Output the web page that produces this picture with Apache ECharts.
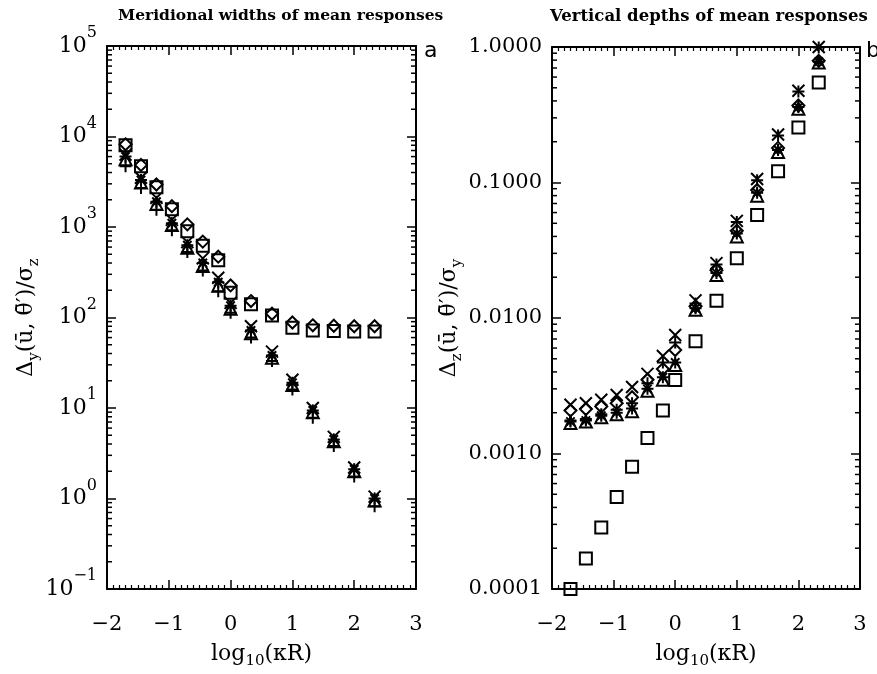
<!DOCTYPE html>
<html>
<head>
<meta charset="utf-8">
<script src="https://cdn.jsdelivr.net/npm/echarts@6/dist/echarts.min.js"></script>
<style>
html,body{margin:0;padding:0;background:#fff;}
#c{width:877px;height:674px;}
</style>
</head>
<body>
<div id="c"></div>
<script>
// ---- data ----
var xVals = [-1.7, -1.45, -1.2, -0.95, -0.7, -0.45, -0.2, 0, 0.33, 0.67, 1, 1.33, 1.67, 2, 2.33];

// panel a: meridional widths
var sqA   = [8000, 4700, 2750, 1570, 900, 620, 430, 188, 140, 105, 77, 72, 71, 70, 70];
var diaA  = [8200, 4850, 2950, 1700, 1070, 690, 470, 226, 152, 110, 88, 82, 81, 80, 80];
var triA  = [5600, 3100, 1800, 1050, 590, 370, 225, 125, 67, 36, 18, 9.0, 4.3, 2.0, 0.95];
var astA  = [6000, 3300, 1900, 1100, 630, 400, 245, 135, 72, 38, 19, 9.4, 4.5, 2.1, 1.0];
var xA    = [6300, 3500, 2100, 1200, 680, 450, 275, 145, 80, 42, 20.5, 10, 4.8, 2.2, 1.05];
var plusA = [4700, 2700, 1550, 920, 530, 330, 195, 113, 60, 33, 16, 7.8, 3.8, 1.75, 0.82];

// panel b: vertical depths
var sqB   = [0.0001, 1.68e-4, 2.84e-4, 4.78e-4, 8.0e-4, 1.30e-3, 2.08e-3, 3.49e-3, 6.74e-3, 0.0134, 0.0276, 0.0576, 0.121, 0.255, 0.547];
var diaB  = [2.08e-3, 2.13e-3, 2.22e-3, 2.35e-3, 2.6e-3, 3.5e-3, 4.2e-3, 5.8e-3, 0.0122, 0.0225, 0.044, 0.088, 0.18, 0.37, 0.79];
var triB  = [1.68e-3, 1.72e-3, 1.85e-3, 1.95e-3, 2.05e-3, 2.9e-3, 3.5e-3, 4.5e-3, 0.0115, 0.0208, 0.040, 0.080, 0.168, 0.35, 0.77];
var astB  = [1.72e-3, 1.75e-3, 1.9e-3, 2.0e-3, 2.15e-3, 3.0e-3, 3.65e-3, 4.7e-3, 0.0118, 0.0215, 0.042, 0.084, 0.174, 0.36, 0.78];
var xB    = [2.29e-3, 2.35e-3, 2.49e-3, 2.70e-3, 3.1e-3, 3.87e-3, 5.25e-3, 7.5e-3, 0.0135, 0.0254, 0.0521, 0.106, 0.226, 0.476, 1.0];
var plusB = [1.75e-3, 1.8e-3, 1.95e-3, 2.1e-3, 2.35e-3, 3.3e-3, 4.7e-3, 6.6e-3, 0.0128, 0.0248, 0.051, 0.104, 0.222, 0.47, 0.99];

// tick labels
var xTickLabels = ['\u22122', '\u22121', '0', '1', '2', '3'];
var yTickExpA = ['\u22121', '0', '1', '2', '3', '4', '5'];
var yTickLabelsB = ['0.0001', '0.0010', '0.0100', '0.1000', '1.0000'];

var titleA = 'Meridional widths of mean responses';
var titleB = 'Vertical depths of mean responses';

// ---- chart ----
var FF = 'DejaVu Serif';
var chart = echarts.init(document.getElementById('c'), null, {renderer: 'canvas'});

var SQ = 'rect';
var DIA = 'path://M5,0L10,5L5,10L0,5Z';
var TRI = 'path://M5,0L10,10L0,10Z';
var PLUS = 'path://M0,5L10,5M5,0L5,10';
var CROSS = 'path://M0,0L10,10M10,0L0,10';
var AST = 'path://M0,5L10,5M5,0L5,10M1.5,1.5L8.5,8.5M8.5,1.5L1.5,8.5';

function sc(sym, xi, yi, ys, size) {
  return {
    type: 'scatter', xAxisIndex: xi, yAxisIndex: yi, silent: true,
    symbol: sym, symbolSize: size || 12,
    itemStyle: {color: 'rgba(0,0,0,0)', borderColor: '#000', borderWidth: 2, opacity: 1},
    data: xVals.map(function (x, i) { return [x, ys[i]]; })
  };
}

function minorLogValues(n0, n1) {
  var out = [];
  for (var n = n0; n <= n1; n++) for (var k = 2; k <= 9; k++) out.push([-2, k * Math.pow(10, n)]);
  return out;
}

function minorTickSeries(xi, yi, vals) {
  return {
    type: 'custom', xAxisIndex: xi, yAxisIndex: yi, silent: true, clip: false,
    data: vals,
    renderItem: function (params, api) {
      var p = api.coord([api.value(0), api.value(1)]);
      var cs = params.coordSys;
      var st = {stroke: '#000', lineWidth: 1.5};
      return {type: 'group', children: [
        {type: 'line', shape: {x1: cs.x, y1: p[1], x2: cs.x + 5, y2: p[1]}, style: st},
        {type: 'line', shape: {x1: cs.x + cs.width, y1: p[1], x2: cs.x + cs.width - 5, y2: p[1]}, style: st}
      ]};
    }
  };
}

var axLine = {show: true, onZero: false, lineStyle: {color: '#000', width: 2}};

function xAxisDef(gi, pos, showLabel) {
  return {
    type: 'value', gridIndex: gi, position: pos, min: -2, max: 3, interval: 1,
    axisLine: axLine,
    axisTick: {show: true, inside: true, length: 9, lineStyle: {color: '#000', width: 1.5}},
    minorTick: {show: true, splitNumber: 10, length: 4, lineStyle: {color: '#000', width: 1.2}},
    splitLine: {show: false},
    axisLabel: {show: showLabel, margin: 25, color: '#000', fontFamily: FF, fontSize: 21,
      formatter: function (v) { return xTickLabels[Math.round(v) + 2]; }},
    name: showLabel ? '{t|log}{sub|10}{t|(\u03baR)}' : '',
    nameLocation: 'middle', nameGap: 54,
    nameTextStyle: {color: '#000', fontFamily: FF, rich: {
      t: {fontSize: 22, fontFamily: FF, color: '#000', verticalAlign: 'top', lineHeight: 26},
      sub: {fontSize: 15, fontFamily: FF, color: '#000', verticalAlign: 'bottom', lineHeight: 18}
    }}
  };
}

var axNameRich = {
  t: {fontSize: 22, fontFamily: FF, color: '#000', verticalAlign: 'top', lineHeight: 26},
  sub: {fontSize: 15, fontFamily: FF, color: '#000', verticalAlign: 'bottom', lineHeight: 18}
};

function yAxisDef(gi, pos, showLabel, mn, mx, fmt, name, gap, sup) {
  var lab = {show: showLabel, margin: 10, color: '#000', fontFamily: FF, fontSize: 21, formatter: fmt};
  if (sup) {
    lab.rich = {
      b: {fontSize: 22, fontFamily: FF, color: '#000', padding: [10, 0, 0, 0]},
      s: {fontSize: 16, fontFamily: FF, color: '#000', verticalAlign: 'top'}
    };
    lab.padding = [0, 0, 10, 0];
  }
  return {
    type: 'log', logBase: 10, gridIndex: gi, position: pos, min: mn, max: mx,
    axisLine: axLine,
    axisTick: {show: true, inside: true, length: 9, lineStyle: {color: '#000', width: 1.5}},
    minorTick: {show: false},
    splitLine: {show: false},
    axisLabel: lab,
    name: showLabel ? name : '',
    nameLocation: 'middle', nameRotate: 90, nameGap: gap,
    nameTextStyle: {color: '#000', fontFamily: FF, rich: axNameRich}
  };
}

var fmtA = function (v) {
  var e = Math.round(Math.log(v) / Math.LN10);
  return '{b|10}{s|' + yTickExpA[e + 1] + '}';
};
var fmtB = function (v) {
  var e = Math.round(Math.log(v) / Math.LN10);
  return yTickLabelsB[e + 4];
};

var nameA = '{t|\u0394}{sub|y}{t|(u\u0304, \u03b8\u0304\u2032)/\u03c3}{sub|z}';
var nameB = '{t|\u0394}{sub|z}{t|(u\u0304, \u03b8\u0304\u2032)/\u03c3}{sub|y}';

var option = {
  animation: false,
  backgroundColor: '#fff',
  grid: [
    {left: 107, top: 46, width: 309, height: 555},
    {left: 552, top: 47, width: 308, height: 555}
  ],
  xAxis: [
    xAxisDef(0, 'bottom', true), xAxisDef(0, 'top', false),
    xAxisDef(1, 'bottom', true), xAxisDef(1, 'top', false)
  ],
  yAxis: [
    yAxisDef(0, 'left', true, 0.1, 100000, fmtA, nameA, 62, true),
    yAxisDef(0, 'right', false, 0.1, 100000, fmtA, '', 0, true),
    yAxisDef(1, 'left', true, 0.0001, 1, fmtB, nameB, 83, false),
    yAxisDef(1, 'right', false, 0.0001, 1, fmtB, '', 0, false)
  ],
  graphic: [
    {type: 'text', left: 118, top: 8, style: {text: titleA, fontFamily: FF, fontWeight: 'bold', fontSize: 15.5, fill: '#000'}},
    {type: 'text', left: 550, top: 8, style: {text: titleB, fontFamily: FF, fontWeight: 'bold', fontSize: 16.5, fill: '#000'}},
    {type: 'text', left: 424, top: 40, style: {text: 'a', fontFamily: 'DejaVu Sans', fontSize: 22, fill: '#000'}},
    {type: 'text', left: 866, top: 40, style: {text: 'b', fontFamily: 'DejaVu Sans', fontSize: 22, fill: '#000'}}
  ],
  series: [
    minorTickSeries(0, 0, minorLogValues(-1, 4)),
    minorTickSeries(2, 2, minorLogValues(-4, -1)),
    sc(SQ, 0, 0, sqA), sc(DIA, 0, 0, diaA), sc(TRI, 0, 0, triA),
    sc(AST, 0, 0, astA), sc(CROSS, 0, 0, xA), sc(PLUS, 0, 0, plusA),
    sc(SQ, 2, 2, sqB), sc(DIA, 2, 2, diaB), sc(TRI, 2, 2, triB),
    sc(AST, 2, 2, astB), sc(CROSS, 2, 2, xB), sc(PLUS, 2, 2, plusB)
  ]
};
chart.setOption(option);
</script>
</body>
</html>
